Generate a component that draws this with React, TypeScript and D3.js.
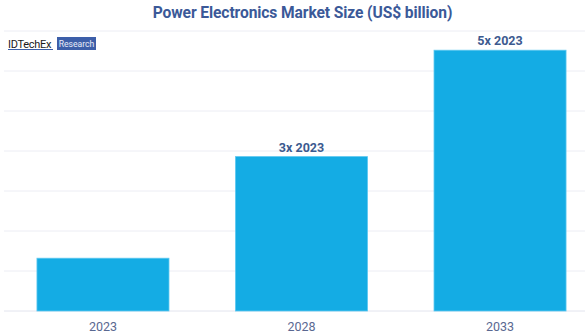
import React from "react";
import * as d3 from "d3";

const categories = ["2023", "2028", "2033"];
const values = [6.6, 19.3, 32.6];
const barLabels = ["", "3x 2023", "5x 2023"];
const yTicks = [0, 5, 10, 15, 20, 25, 30, 35];

const W = 585;
const H = 336;

export default function App() {
  const x = d3
    .scaleBand<string>()
    .domain(categories)
    .range([4, 599])
    .paddingInner(0.335)
    .paddingOuter(0.166);
  const y = d3.scaleLinear().domain([0, 35]).range([311, 31]);
  const font = "Roboto, 'Noto Sans', sans-serif";

  return (
    <svg
      width={W}
      height={H}
      style={{ position: "absolute", left: 0, top: 0, background: "#fff" }}
      fontFamily={font}
    >
      <text
        x={302.5}
        y={18}
        textAnchor="middle"
        fontSize={15.6}
        fontWeight={700}
        fill="#3b5998"
        letterSpacing={-0.1}
      >
        Power Electronics Market Size (US$ billion)
      </text>
      {yTicks.map((t) => (
        <line
          key={t}
          x1={4}
          x2={W}
          y1={y(t)}
          y2={y(t)}
          stroke={t === 0 ? "#e2e4ee" : "#ecedf4"}
          strokeWidth={1}
        />
      ))}
      <text x={8} y={47.5} fontSize={11} fill="#1a1a1a" letterSpacing={-0.3}>
        IDTechEx
      </text>
      <line x1={8} x2={53} y1={49.5} y2={49.5} stroke="#3b5fa8" strokeWidth={1} />
      <rect x={57} y={37} width={39} height={13} fill="#3d5fa9" />
      <text x={76.5} y={46.8} fontSize={8.6} fill="#e8ecf8" textAnchor="middle">
        Research
      </text>
      {categories.map((c, i) => {
        const x0 = x(c)!;
        const bw = x.bandwidth();
        return (
          <g key={c}>
            <rect
              x={x0}
              y={y(values[i])}
              width={bw}
              height={y(0) - y(values[i])}
              fill="#14ace4"
              stroke="#5cc8f0"
              strokeWidth={0.8}
            />
            {barLabels[i] && (
              <text
                x={x0 + bw / 2}
                y={y(values[i]) - 5}
                textAnchor="middle"
                fontSize={12.5}
                fontWeight={700}
                fill="#3c5a8f"
              >
                {barLabels[i]}
              </text>
            )}
            <text
              x={x0 + bw / 2}
              y={331}
              textAnchor="middle"
              fontSize={12.5}
              fill="#5a6891"
            >
              {c}
            </text>
          </g>
        );
      })}
    </svg>
  );
}
